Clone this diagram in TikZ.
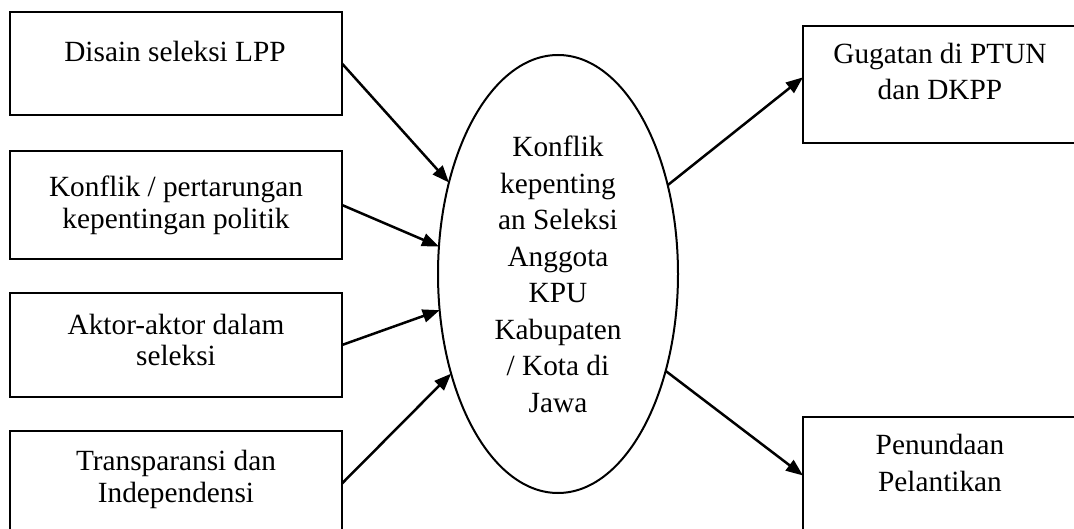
\documentclass[tikz,border=0pt]{standalone}
\usepackage{fontspec}
\setmainfont{Liberation Serif}
\usetikzlibrary{arrows.meta,shapes.geometric}
\begin{document}
\begin{tikzpicture}[x=1pt,y=-1pt,
  boxnode/.style={draw=black,line width=2.5pt,rectangle,inner sep=0pt,outer sep=0pt},
  lbl/.style={align=center,inner sep=0pt,anchor=base,font=\fontsize{29.3}{32}\selectfont},
  lblwide/.style={align=center,inner sep=0pt,anchor=base,font=\fontsize{29.3}{36.5}\selectfont},
  arr/.style={line width=2.5pt,-{Triangle[length=17pt,width=13pt]}}]
\clip (0,0) rectangle (1074,529);
\fill[white] (0,0) rectangle (1074,529);
% left boxes
\node[boxnode,minimum width=332pt,minimum height=103pt] (b1) at (176,63.5) {};
\node[boxnode,minimum width=332pt,minimum height=108pt] (b2) at (176,205) {};
\node[boxnode,minimum width=332pt,minimum height=104pt] (b3) at (176,345) {};
\node[boxnode,minimum width=332pt,minimum height=105pt] (b4) at (176,483.5) {};
% right boxes
\node[boxnode,minimum width=274pt,minimum height=117pt] (r1) at (940,84.5) {};
\node[boxnode,minimum width=274pt,minimum height=117pt] (r2) at (940,475.5) {};
% ellipse
\node[draw=black,line width=2pt,ellipse,minimum width=240pt,minimum height=438pt,inner sep=0pt,outer sep=0pt] (e) at (558,274) {};
% texts (base anchor = baseline of last line)
\node[lbl] (t1) at (175,62) {Disain seleksi LPP};
\node[lbl] (t2) at (176,229) {Konflik / pertarungan\\kepentingan politik};
\node[lbl] (t3) at (176,366) {Aktor-aktor dalam\\seleksi};
\node[lbl] (t4) at (176,502) {Transparansi dan\\Independensi};
\node[lblwide] (te) at (558,412) {Konflik\\kepenting\\an Seleksi\\Anggota\\KPU\\Kabupaten\\/ Kota di\\Jawa};
\node[lblwide] (tr1) at (940,100) {Gugatan di PTUN\\dan DKPP};
\node[lblwide] (tr2) at (940,491) {Penundaan\\Pelantikan};
% arrows
\draw[arr] (b1.east) -- (e.140);
\draw[arr] (b2.east) -- (e.167);
\draw[arr] (b3.east) -- (e.197);
\draw[arr] (b4.east) -- (e.223);
\draw[arr] (e.39) -- (r1.177);
\draw[arr] (e.-42) -- (r2.west);
\end{tikzpicture}
\end{document}
